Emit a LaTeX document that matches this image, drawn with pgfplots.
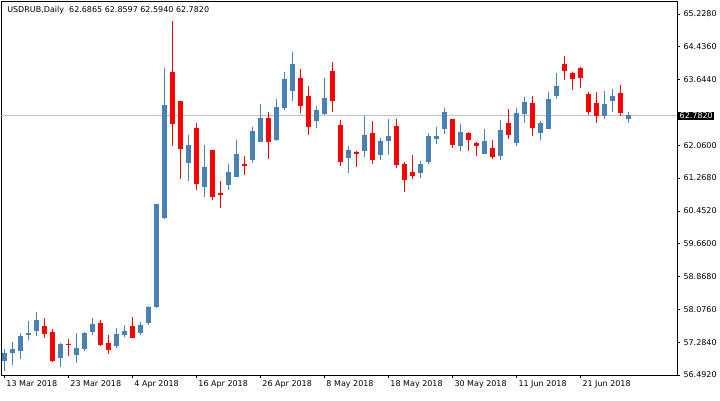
\documentclass[border=0pt]{standalone}
\usepackage{pgfplots}
\pgfplotsset{compat=1.18}
\usepackage{pgfplotstable}
\usepackage{fontspec}
\setmainfont{DejaVu Sans}

\definecolor{bull}{RGB}{70,130,180}
\definecolor{bear}{RGB}{255,0,0}
\definecolor{pline}{RGB}{192,192,192}

% daily candles, i = bar number from 13 Mar 2018
\pgfplotstableread{
i o h l c
0 56.861 57.136 56.620 57.039
1 57.039 57.305 56.757 57.136
2 57.102 57.536 56.902 57.457
3 57.488 57.819 57.360 57.536
4 57.585 58.029 57.464 57.843
7 56.933 57.295 56.716 57.264
9 56.998 57.536 56.813 57.160
10 57.151 57.553 57.095 57.529
11 57.553 57.884 57.481 57.746
14 57.223 57.657 57.175 57.505
15 57.488 57.722 57.440 57.577
17 57.536 57.795 57.488 57.722
18 57.770 58.181 57.729 58.157
19 58.164 60.645 58.140 60.641
20 60.296 63.915 60.272 63.030
23 61.638 62.306 61.196 62.065
25 61.059 62.065 60.810 61.534
28 61.107 61.606 60.979 61.413
29 61.300 62.185 61.300 61.848
31 61.703 62.499 61.638 62.403
32 62.144 63.054 62.144 62.716
34 62.193 63.167 62.169 62.982
35 62.965 63.826 62.916 63.657
36 63.375 64.308 63.134 64.019
39 62.651 63.006 62.482 62.909
40 62.820 63.681 62.796 63.199
43 61.758 62.041 61.397 61.937
45 61.920 62.764 61.783 62.306
47 61.831 62.241 61.710 62.161
48 62.169 62.692 61.831 62.282
52 61.397 61.686 61.276 61.614
53 61.662 62.354 61.606 62.282
54 62.217 62.499 62.096 62.282
55 62.444 62.957 62.337 62.861
57 62.048 62.571 61.927 62.378
60 61.855 62.451 61.855 62.161
62 61.807 62.668 61.703 62.427
64 62.120 62.957 62.048 62.837
65 62.820 63.230 62.603 63.102
67 62.362 62.651 62.193 62.596
68 62.458 63.343 62.458 63.175
69 63.254 63.802 63.182 63.488
75 62.772 63.368 62.699 63.054
76 63.126 63.416 62.868 63.247
78 62.6865 62.8597 62.5940 62.7820
}\upbars

\pgfplotstableread{
i o h l c
5 57.698 57.884 57.416 57.512
6 57.553 57.618 56.830 56.854
8 57.271 57.377 56.982 57.257
12 57.763 57.843 57.216 57.247
13 57.288 57.481 57.030 57.126
16 57.698 57.915 57.416 57.416
21 63.826 65.056 62.048 62.579
22 63.134 63.134 61.245 61.976
24 62.475 62.596 60.986 61.131
26 61.944 61.944 60.738 60.818
27 60.907 61.196 60.552 60.875
30 61.606 61.799 61.341 61.582
33 62.716 62.861 61.720 62.144
37 63.681 63.898 62.844 63.013
38 63.247 63.488 62.313 62.506
41 63.850 64.067 62.868 63.134
42 62.547 62.668 61.565 61.662
44 61.889 61.927 61.541 61.840
46 62.354 62.644 61.614 61.710
49 62.523 62.692 61.517 61.589
50 61.606 61.655 60.938 61.228
51 61.413 61.824 61.252 61.324
56 62.692 62.692 62.000 62.072
58 62.354 62.386 61.927 62.193
59 62.113 62.137 61.807 62.048
61 61.992 62.185 61.734 61.783
63 62.596 62.933 62.217 62.313
66 63.078 63.247 62.289 62.482
70 64.019 64.212 63.640 63.857
71 63.802 63.826 63.392 63.664
72 63.922 63.947 63.447 63.688
73 63.295 63.343 62.789 62.868
74 63.078 63.343 62.603 62.772
77 63.319 63.512 62.772 62.844
}\downbars

\pgfplotsset{
  wick/.style={draw=none, mark=none,
    error bars/.cd, y dir=both, y explicit, error mark=none,
    error bar style={line width=1pt, draw=#1}},
  body/.style={draw=none, mark=none,
    error bars/.cd, y dir=both, y explicit, error mark=none,
    error bar style={line width=5pt, draw=#1}},
}

\begin{document}
\begin{tikzpicture}[font=\fontsize{8}{9.6}\selectfont]
\useasboundingbox (0,0) rectangle (720pt,400pt);
\begin{axis}[
  at={(1.3pt,25pt)}, anchor=south west,
  scale only axis, width=675.7pt, height=373.5pt,
  xmin=-0.35, xmax=84.1, ymin=56.516, ymax=65.527,
  axis line style={black, line width=0.8pt},
  tick style={black, line width=0.6pt},
  tick align=outside, major tick length=3pt,
  xtick pos=bottom, ytick pos=right, yticklabel pos=right,
  xtick={0,8,...,72},
  xticklabels={13 Mar 2018,23 Mar 2018,4 Apr 2018,16 Apr 2018,26 Apr 2018,8 May 2018,18 May 2018,30 May 2018,11 Jun 2018,21 Jun 2018},
  xticklabel style={anchor=north west, xshift=-1.2pt, yshift=1pt},
  ytick={56.516,57.308,58.100,58.892,59.684,60.476,61.268,62.060,62.852,63.644,64.436,65.228},
  yticklabels={56.4920,57.2840,58.0760,58.8680,59.6600,60.4520,61.2680,62.0600,{},63.6440,64.4360,65.2280},
  yticklabel style={anchor=west, xshift=0pt},
  every tick label/.append style={font=\fontsize{8}{9.6}\selectfont},
]
% current price line
\draw[pline, line width=0.8pt] (axis cs:-1,62.782) -- (axis cs:90,62.782);

\addplot[wick=bull] table[x=i, y expr={(\thisrow{h}+\thisrow{l})/2},
  y error expr={(\thisrow{h}-\thisrow{l})/2}] {\upbars};
\addplot[body=bull] table[x=i, y expr={(\thisrow{o}+\thisrow{c})/2},
  y error expr={max(abs(\thisrow{c}-\thisrow{o})/2,0.012)}] {\upbars};
\addplot[wick=bear] table[x=i, y expr={(\thisrow{h}+\thisrow{l})/2},
  y error expr={(\thisrow{h}-\thisrow{l})/2}] {\downbars};
\addplot[body=bear] table[x=i, y expr={(\thisrow{o}+\thisrow{c})/2},
  y error expr={max(abs(\thisrow{o}-\thisrow{c})/2,0.012)}] {\downbars};

\node[anchor=west, inner sep=0pt] at ([xshift=5.8pt, yshift=-8.6pt]rel axis cs:0,1)
  {USDRUB,Daily\ \ 62.6865 62.8597 62.5940 62.7820};
\end{axis}
\node[fill=black, text=white, anchor=west, inner xsep=1.5pt, inner ysep=1.2pt]
  at (678pt,{400pt-116pt}) {62.7820};
\end{tikzpicture}
\end{document}
